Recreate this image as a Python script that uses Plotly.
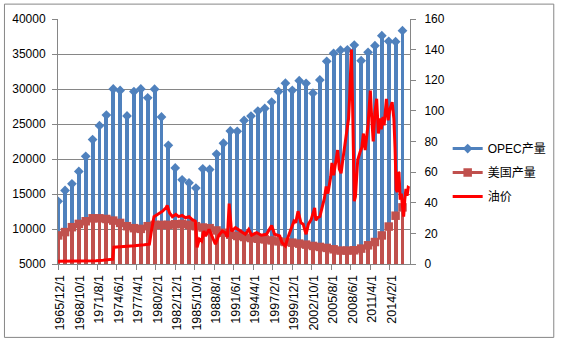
import plotly.graph_objects as go

# ---------------- data ----------------
years = list(range(1965, 2016))
opec = [13950, 15500, 16450, 18220, 20380, 22780, 24760, 26280, 30000, 29800,
        26150, 29640, 30000, 28740, 29980, 26000, 21950, 18720, 17030, 16600,
        15850, 18600, 18500, 20700, 22250, 24000, 23960, 25500, 26140, 26850,
        27230, 28130, 29640, 30830, 29820, 31190, 30810, 29400, 31300, 33960,
        35100, 35550, 35600, 36280, 34050, 35240, 36190, 37620, 36810, 36760, 38330]
us = [9080, 9560, 10260, 10730, 11110, 11530, 11530, 11430, 11200, 10870,
      10400, 10120, 10020, 10400, 10590, 10590, 10590, 10680, 10730, 10590,
      10400, 10210, 10120, 9790, 9460, 9180, 9000, 8850, 8710, 8610,
      8510, 8370, 8230, 8140, 8050, 7910, 7770, 7580, 7440, 7300,
      7100, 6920, 6920, 6960, 7200, 7670, 8140, 9080, 10350, 11900, 13090]

price_months = [
    "1965-12", "1970-12", "1971-06", "1972-06", "1973-06", "1973-11", "1974-01",
    "1975-06", "1977-01", "1978-06", "1979-03", "1979-07", "1979-11", "1980-05",
    "1981-02", "1981-08", "1981-10", "1982-02", "1982-07", "1983-01", "1983-06",
    "1983-12", "1984-06", "1984-12", "1985-05", "1985-11", "1986-02", "1986-06",
    "1986-10", "1987-02", "1987-05", "1987-11", "1988-04", "1988-10", "1989-04",
    "1989-10", "1990-03", "1990-07", "1990-10", "1991-02", "1991-09", "1992-05",
    "1993-02", "1993-08", "1994-01", "1994-10", "1995-06", "1996-03", "1996-12",
    "1997-05", "1998-02", "1998-06", "1998-12", "1999-04", "1999-10", "2000-03",
    "2000-06", "2000-10", "2001-03", "2001-07", "2001-12", "2002-04", "2002-09",
    "2003-03", "2003-05", "2003-08", "2003-12", "2004-05", "2004-08", "2004-11",
    "2005-02", "2005-07", "2005-09", "2005-12", "2006-04", "2006-07", "2006-10",
    "2007-01", "2007-04", "2007-07", "2007-10", "2008-02", "2008-04", "2008-07",
    "2008-09", "2008-10", "2008-12", "2009-02", "2009-06", "2009-10", "2010-01",
    "2010-04", "2010-07", "2010-12", "2011-04", "2011-06", "2011-09", "2011-12",
    "2012-03", "2012-06", "2012-09", "2012-11", "2013-02", "2013-04", "2013-08",
    "2013-11", "2014-02", "2014-06", "2014-09", "2014-11", "2014-12", "2015-01",
    "2015-03", "2015-05", "2015-06", "2015-08", "2015-10", "2015-12", "2016-02",
    "2016-04", "2016-06", "2016-08", "2016-10", "2016-12"]
price_values = [
    1.8, 1.8, 2.1, 2.4, 2.7, 3.1, 11.0,
    11.3, 11.9, 12.5, 12.9, 22.6, 30.9, 32.4,
    34.5, 36.7, 38.2, 33.4, 30.9, 32.4, 30.9,
    31.7, 30.2, 30.9, 29.1, 28.0, 10.8, 16.2,
    15.0, 21.5, 18.3, 22.6, 18.3, 12.9, 18.8,
    21.5, 20.5, 17.5, 39.5, 21.5, 23.7, 21.5,
    19.4, 22.6, 18.8, 20.5, 18.8, 19.4, 25.2,
    19.4, 18.3, 14.0, 11.8, 17.0, 23.7, 28.0,
    27.0, 34.5, 27.0, 26.0, 19.4, 26.0, 29.1,
    36.7, 28.5, 30.2, 31.0, 37.7, 43.0, 50.7,
    46.0, 57.1, 66.0, 58.0, 66.0, 74.4, 62.0,
    59.3, 68.0, 76.5, 84.0, 95.0, 110.0, 140.0,
    105.0, 78.0, 41.0, 44.0, 67.9, 73.0, 76.0,
    85.2, 74.4, 91.0, 113.2, 98.2, 80.0, 99.0,
    107.9, 85.2, 95.0, 88.0, 96.0, 90.6, 107.9,
    93.8, 101.0, 105.7, 95.0, 76.0, 60.0, 48.5,
    47.0, 60.0, 59.5, 42.0, 46.0, 37.5, 31.0,
    42.0, 49.0, 44.5, 50.0, 49.6]

tick_labels = ["1965/12/1", "1968/10/1", "1971/8/1", "1974/6/1", "1977/4/1",
               "1980/2/1", "1982/12/1", "1985/10/1", "1988/8/1", "1991/6/1",
               "1994/4/1", "1997/2/1", "1999/12/1", "2002/10/1", "2005/8/1",
               "2008/6/1", "2011/4/1", "2014/2/1"]

# ---------------- styling ----------------
BLUE = "#4F81BD"
BROWN = "#C0504D"
RED = "#FF0000"
GRID = "#868686"
FONT = "Liberation Sans, Arial, Noto Sans CJK SC"

bar_x = [f"{y}-12-01" for y in years]
price_x = [m + "-01" for m in price_months]


def to_iso(lbl):
    y, m, d = lbl.split("/")
    return f"{int(y):04d}-{int(m):02d}-{int(d):02d}"


tick_vals = [to_iso(t) for t in tick_labels]

# marker series with gaps so no connecting line is drawn
def gapped(xs, ys):
    gx, gy = [], []
    for a, b in zip(xs, ys):
        gx += [a, a]
        gy += [b, None]
    return gx, gy


ox, oy = gapped(bar_x, opec)
ux, uy = gapped(bar_x, us)

MONTH_MS = 30.44 * 86400000
bar_w = 6.8 * MONTH_MS

fig = go.Figure()
fig.add_trace(go.Bar(x=bar_x, y=opec, width=bar_w, marker=dict(color=BLUE, line=dict(width=0)),
                     showlegend=False, hoverinfo="skip"))
fig.add_trace(go.Bar(x=bar_x, y=us, width=bar_w, marker=dict(color=BROWN, line=dict(width=0)),
                     showlegend=False, hoverinfo="skip"))
fig.add_trace(go.Scatter(x=ox, y=oy, mode="lines+markers", name="OPEC产量", connectgaps=False,
                         line=dict(color=BLUE, width=3),
                         marker=dict(symbol="diamond", size=7.5, color=BLUE),
                         legendgroup="a"))
fig.add_trace(go.Scatter(x=ux, y=uy, mode="lines+markers", name="美国产量", connectgaps=False,
                         line=dict(color=BROWN, width=3),
                         marker=dict(symbol="square", size=8.5, color=BROWN),
                         legendgroup="b"))
fig.add_trace(go.Scatter(x=price_x, y=price_values, mode="lines", name="油价", yaxis="y2",
                         line=dict(color=RED, width=3), legendgroup="c"))

L, R, T, B = 58, 151, 18, 78
W, H = 564, 343
pw, ph = W - L - R, H - T - B


def px2paper_x(px):
    return (px - L) / pw


def px2paper_y(py):
    return (H - B - py) / ph


fig.update_layout(
    width=W, height=H, autosize=False,
    margin=dict(l=L, r=R, t=T, b=B, pad=0),
    paper_bgcolor="white", plot_bgcolor="white",
    barmode="overlay", bargap=0,
    font=dict(family=FONT, size=12, color="#000000"),
    xaxis=dict(type="date", range=["1965-11-22", "2017-01-03"],
               tickmode="array", tickvals=tick_vals, ticktext=tick_labels,
               tickangle=-90, ticks="outside", ticklen=5, tickcolor=GRID,
               showline=True, linecolor=GRID, linewidth=1, showgrid=False,
               tickfont=dict(size=12.5), ticklabelshift=2, zeroline=False),
    yaxis=dict(range=[5000, 40000], tick0=5000, dtick=5000, tickformat="d",
               showgrid=True, gridcolor=GRID, gridwidth=1,
               showline=True, linecolor=GRID, linewidth=1,
               ticks="outside", ticklen=5, tickcolor=GRID,
               tickfont=dict(size=12), zeroline=False, ticklabelstandoff=4),
    yaxis2=dict(range=[0, 160], tick0=0, dtick=20, overlaying="y", side="right",
                showgrid=False, showline=True, linecolor=GRID, linewidth=1,
                ticks="outside", ticklen=5, tickcolor=GRID,
                tickfont=dict(size=12), zeroline=False, ticklabelstandoff=6),
    legend=dict(x=px2paper_x(451), xanchor="left", y=px2paper_y(134), yanchor="top",
                font=dict(size=12, family=FONT), bgcolor="rgba(0,0,0,0)",
                tracegroupgap=5, traceorder="grouped", itemwidth=30),
    shapes=[dict(type="rect", xref="paper", yref="paper",
                 x0=px2paper_x(4), x1=px2paper_x(558),
                 y0=px2paper_y(339), y1=px2paper_y(3),
                 line=dict(color=GRID, width=1), fillcolor="rgba(0,0,0,0)", layer="below")],
)

fig.write_html("out.html")
